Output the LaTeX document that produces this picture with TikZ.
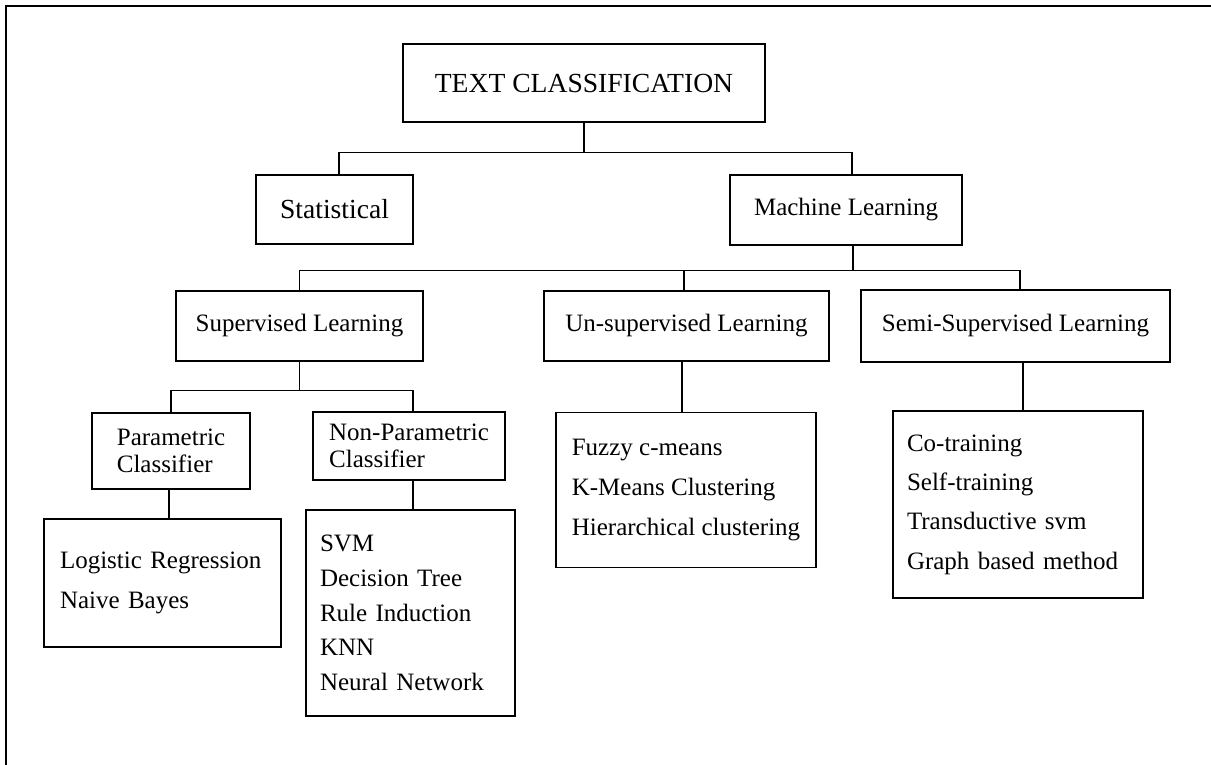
\documentclass[tikz,border=0pt]{standalone}
\usepackage{fontspec}
\setmainfont{Liberation Serif}

\begin{document}
\begin{tikzpicture}[x=1pt,y=-1pt,line width=1.2pt]
\tikzstyle{box}=[draw,inner sep=0pt,font=\fontsize{25}{27.5}\selectfont]
\tikzstyle{bigbox}=[box,font=\fontsize{27.6}{30}\selectfont]
\tikzstyle{listbox}=[box,align=left]

\useasboundingbox (0,0) rectangle (1211,765);
\draw[line width=2.4pt] (1211,6) -- (6,6) -- (6,765);

\node[bigbox,minimum width=362pt,minimum height=78pt] (TC) at (584,83) {TEXT CLASSIFICATION};

\node[bigbox,minimum width=157pt,minimum height=69pt] (ST) at (334.5,209.5) {Statistical};
\node[box,minimum width=232pt,minimum height=70pt] (ML) at (846,210) {Machine Learning};

\node[box,minimum width=247pt,minimum height=70pt] (SL) at (299.5,326) {Supervised Learning};
\node[box,minimum width=285pt,minimum height=70pt] (UL) at (686.5,326) {Un-supervised Learning};
\node[box,minimum width=309pt,minimum height=72pt] (SSL) at (1015.5,326) {Semi-Supervised Learning};

\node[listbox,minimum width=158pt,minimum height=76pt] (PC) at (171,451) {Parametric\\Classifier};
\node[listbox,minimum width=192pt,minimum height=68pt] (NPC) at (409,446) {Non-Parametric\\Classifier};

\node[listbox,inner xsep=16pt,text width=205pt,minimum height=128pt,
      font=\fontsize{25}{40}\selectfont] (PCL) at (162.5,583)
  {Logistic Regression\\Naive Bayes};

\node[listbox,inner xsep=14pt,text width=181pt,minimum height=206pt,
      font=\fontsize{25}{34.8}\selectfont] (NPCL) at (410.5,613)
  {SVM\\Decision Tree\\Rule Induction\\KNN\\Neural Network};

\node[listbox,minimum width=260pt,minimum height=155pt,
      font=\fontsize{25}{40}\selectfont] (ULL) at (686,490)
  {Fuzzy c-means\\K-Means Clustering\\Hierarchical clustering};

\node[listbox,inner xsep=14pt,text width=222pt,minimum height=187pt,
      font=\fontsize{25}{39.3}\selectfont] (SSLL) at (1018,504.5)
  {Co-training\\Self-training\\Transductive svm\\Graph based method};

% tree lines
\coordinate (TCbus) at ([yshift=-30pt]TC.south);
\coordinate (MLbus) at ([xshift=7pt,yshift=-25pt]ML.south);
\coordinate (SLbus) at ([yshift=-29pt]SL.south);

\draw (TC.south) -- (TCbus);
\draw ([xshift=4.5pt]ST.north) |- (TCbus) -| ([xshift=6pt]ML.north);
\draw ([xshift=7pt]ML.south) -- (MLbus);
\draw (SL.north) |- (MLbus) -| ([xshift=4.5pt]SSL.north);
\draw ([xshift=-2.5pt]UL.north) -- ([xshift=-2.5pt]UL.north |- MLbus);
\draw (SL.south) -- (SLbus);
\draw (PC.north) |- (SLbus) -| ([xshift=4pt]NPC.north);
\draw ([xshift=-2pt]PC.south) -- ([xshift=-2pt]PC.south |- PCL.north);
\draw ([xshift=4pt]NPC.south) -- ([xshift=4pt]NPC.south |- NPCL.north);
\draw ([xshift=-4.5pt]UL.south) -- ([xshift=-4.5pt]UL.south |- ULL.north);
\draw ([xshift=7.5pt]SSL.south) -- ([xshift=7.5pt]SSL.south |- SSLL.north);

\end{tikzpicture}
\end{document}
